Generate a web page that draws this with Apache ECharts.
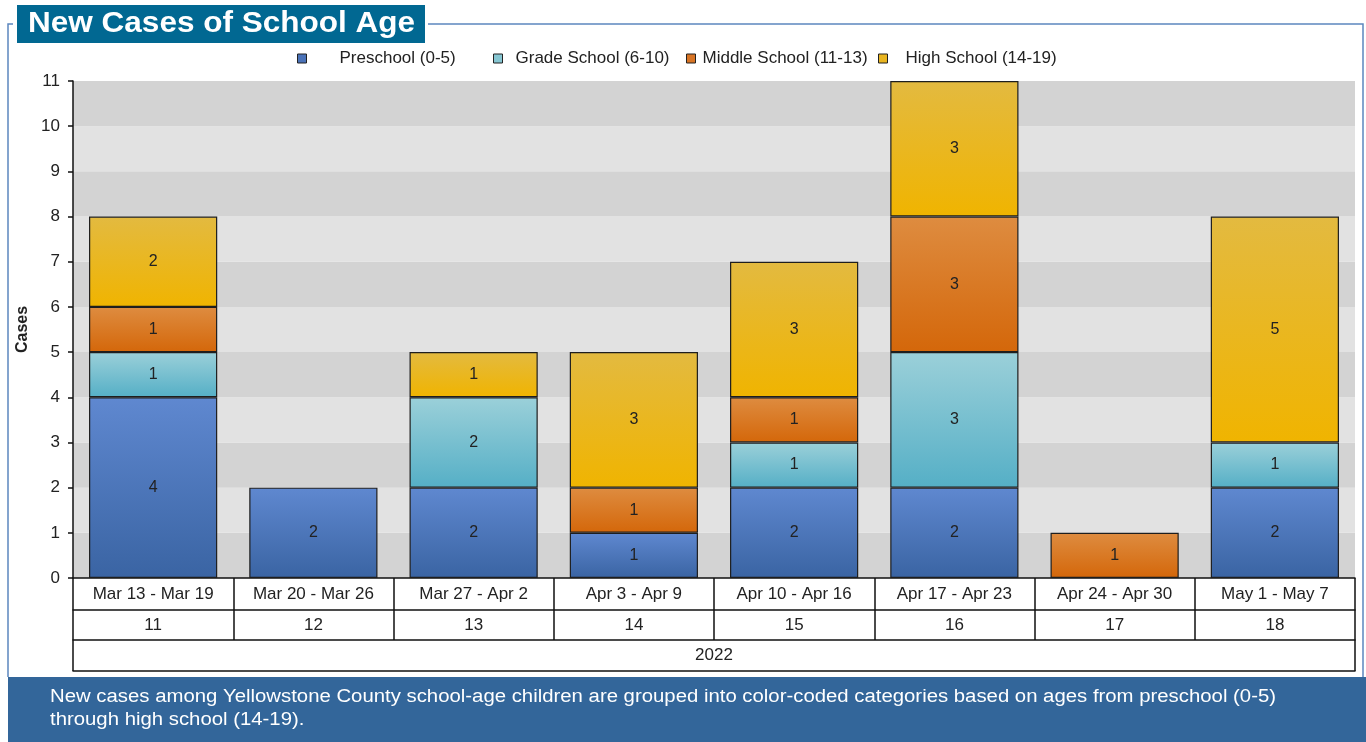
<!DOCTYPE html>
<html>
<head>
<meta charset="utf-8">
<script src="https://cdn.jsdelivr.net/npm/echarts@6/dist/echarts.min.js"></script>
<style>
html,body{margin:0;padding:0;background:#fff;}
#chart{width:1366px;height:742px;}
</style>
</head>
<body>
<div id="chart"></div>
<script>
var categories = ['Mar 13 - Mar 19', 'Mar 20 - Mar 26', 'Mar 27 - Apr 2', 'Apr 3 - Apr 9', 'Apr 10 - Apr 16', 'Apr 17 - Apr 23', 'Apr 24 - Apr 30', 'May 1 - May 7'];
var weeks = ['11', '12', '13', '14', '15', '16', '17', '18'];
var years = ['2022'];
var seriesNames = ['Preschool (0-5)', 'Grade School (6-10)', 'Middle School (11-13)', 'High School (14-19)'];
var preschool = [4, 2, 2, 1, 2, 2, 0, 2];
var gradeSchool = [1, 0, 2, 0, 1, 3, 0, 1];
var middleSchool = [1, 0, 0, 1, 1, 3, 1, 0];
var highSchool = [2, 0, 1, 3, 3, 3, 0, 5];
var yTicks = [0, 1, 2, 3, 4, 5, 6, 7, 8, 9, 10, 11];

var FONT = '"Liberation Sans", Arial, sans-serif';
var gradients = [
  ['#5f88d0', '#3a64a3'],
  ['#9bd0d9', '#55afc6'],
  ['#de8c40', '#d4670a'],
  ['#e3ba40', '#f0b400']
];
var legendColors = ['#4a72b8', '#86c6d2', '#d87424', '#e9b520'];
var values = [preschool, gradeSchool, middleSchool, highSchool];

function grad(c) {
  return new echarts.graphic.LinearGradient(0, 0, 0, 1, [
    {offset: 0, color: c[0]}, {offset: 1, color: c[1]}
  ]);
}

var series = seriesNames.map(function (name, i) {
  return {
    name: name,
    type: 'bar',
    stack: 'total',
    xAxisIndex: 0,
    barCategoryGap: '20%',
    data: values[i].map(function (v) { return v === 0 ? '-' : v; }),
    itemStyle: {
      color: grad(gradients[i]),
      borderColor: '#1e1e1e',
      borderWidth: 1.2
    },
    label: {
      show: true,
      position: 'inside',
      color: '#222',
      fontSize: 16,
      fontFamily: FONT
    }
  };
});

// legend positions
var legendLeft = [297, 493, 686, 878];
var legendPad = [28, 8, 2, 13];
var legends = seriesNames.map(function (name, i) {
  return {
    left: legendLeft[i],
    top: 50,
    padding: 0,
    icon: 'rect',
    itemWidth: 9,
    itemHeight: 9,
    selectedMode: false,
    data: [{name: name, itemStyle: {color: legendColors[i], borderColor: '#222', borderWidth: 1}}],
    textStyle: {color: '#222', fontSize: 17, fontFamily: FONT, padding: [0, 0, 0, legendPad[i]]}
  };
});

var lineStyle = {color: '#111', width: 1.5};

var option = {
  animation: false,
  backgroundColor: '#fff',
  textStyle: {fontFamily: FONT},
  legend: legends,
  grid: {left: 73, right: 11, top: 81, bottom: 164, containLabel: false},
  yAxis: {
    type: 'value',
    min: yTicks[0],
    max: yTicks[yTicks.length - 1],
    interval: 1,
    name: 'Cases',
    nameLocation: 'middle',
    nameGap: 37,
    nameTextStyle: {fontSize: 16, fontWeight: 'bold', color: '#222', fontFamily: FONT},
    axisLine: {show: true, lineStyle: lineStyle},
    axisTick: {show: true, length: 5, lineStyle: lineStyle},
    axisLabel: {fontSize: 17, color: '#222', margin: 13, fontFamily: FONT},
    splitLine: {show: false},
    splitArea: {show: true, areaStyle: {color: ['#d3d3d3', '#e2e2e2']}}
  },
  xAxis: [
    {
      type: 'category', data: categories, position: 'bottom', offset: 0,
      axisLine: {show: true, lineStyle: lineStyle},
      axisTick: {show: true, length: 32, interval: 0, lineStyle: lineStyle},
      axisLabel: {interval: 0, fontSize: 17, color: '#222', margin: 8, fontFamily: FONT},
      splitLine: {show: false}
    },
    {
      type: 'category', data: weeks, position: 'bottom', offset: 32,
      axisLine: {show: true, lineStyle: lineStyle},
      axisTick: {show: true, length: 30, interval: 0, lineStyle: lineStyle},
      axisLabel: {interval: 0, fontSize: 17, color: '#222', margin: 7, fontFamily: FONT}
    },
    {
      type: 'category', data: years, position: 'bottom', offset: 62,
      axisLine: {show: true, lineStyle: lineStyle},
      axisTick: {show: true, length: 31, interval: 0, lineStyle: lineStyle},
      axisLabel: {interval: 0, fontSize: 17, color: '#222', margin: 7, fontFamily: FONT}
    },
    {
      type: 'category', data: [''], position: 'bottom', offset: 93,
      axisLine: {show: true, lineStyle: lineStyle},
      axisTick: {show: false},
      axisLabel: {show: false}
    }
  ],
  series: series,
  graphic: [
    {type: 'polyline', shape: {points: [[428, 24], [1363, 24], [1363, 677]]}, style: {stroke: '#5c87bf', lineWidth: 1.5, fill: null}},
    {type: 'polyline', shape: {points: [[13, 24], [8, 24], [8, 677]]}, style: {stroke: '#5c87bf', lineWidth: 1.5, fill: null}},
    {type: 'rect', shape: {x: 17, y: 5, width: 408, height: 38}, style: {fill: '#016892'}},
    {type: 'text', x: 28, y: 24, scaleX: 1.087, originX: 0, style: {text: 'New Cases of School Age', fill: '#fff', font: 'bold 29px ' + FONT, verticalAlign: 'middle', align: 'left'}},
    {type: 'rect', shape: {x: 8, y: 677, width: 1358, height: 65}, style: {fill: '#33669a'}},
    {type: 'text', x: 50, y: 686, scaleX: 1.13, originX: 0, style: {text: 'New cases among Yellowstone County school-age children are grouped into color-coded categories based on ages from preschool (0-5)\nthrough high school (14-19).', fill: '#fff', font: '18px ' + FONT, lineHeight: 23, verticalAlign: 'top', align: 'left'}}
  ]
};

var chart = echarts.init(document.getElementById('chart'), null, {renderer: 'canvas'});
chart.setOption(option);
</script>
</body>
</html>
